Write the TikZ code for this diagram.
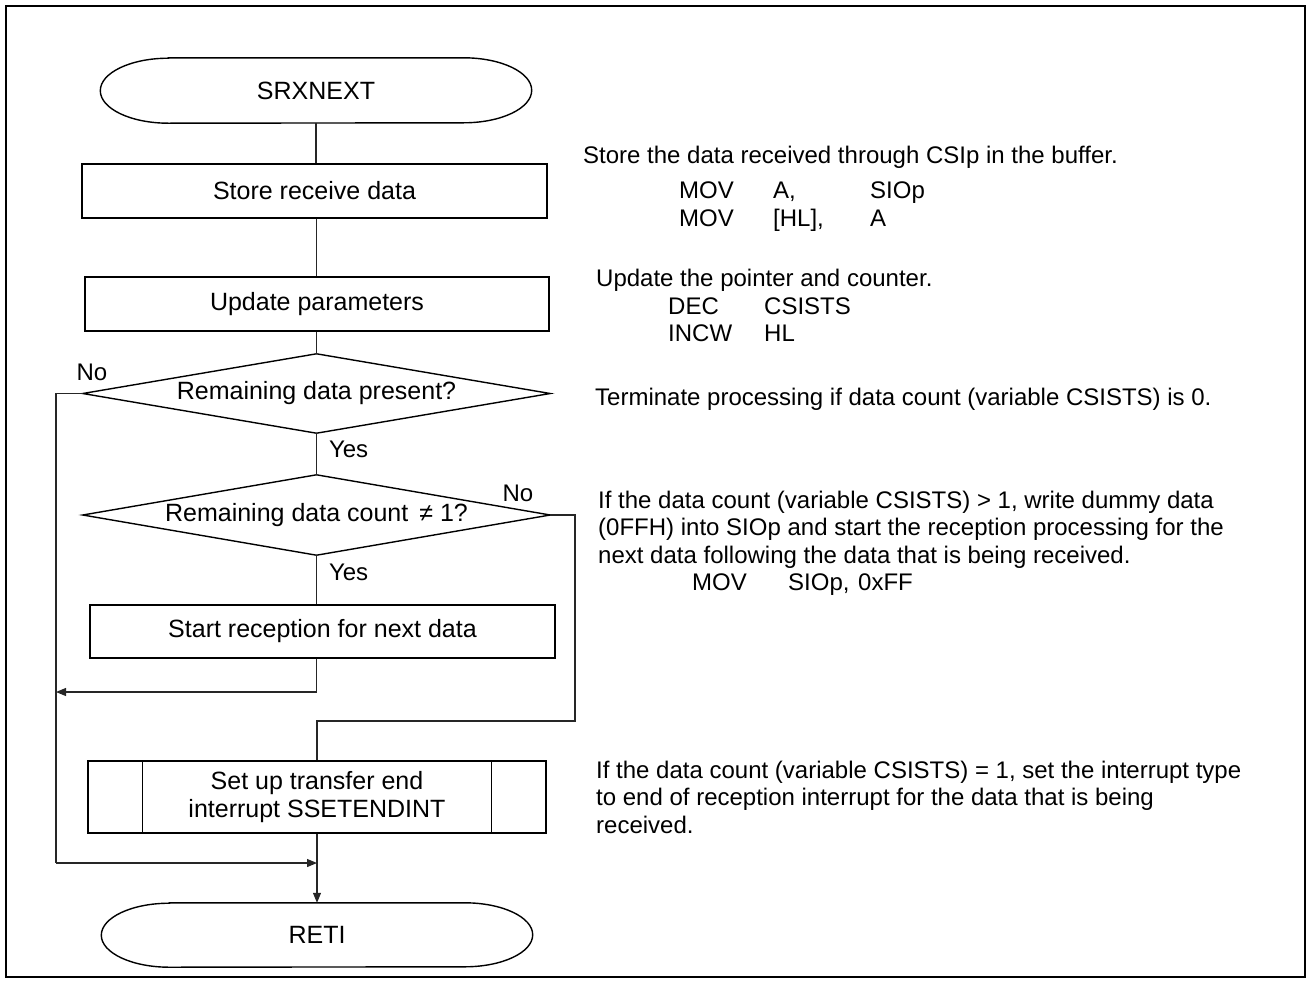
\documentclass[tikz,border=0pt]{standalone}
\usepackage{fontspec}
\setmainfont{Liberation Sans}
\usetikzlibrary{arrows.meta}
\newcommand\flowfont{\fontsize{25}{28}\selectfont}
\newcommand\notefont{\fontsize{24}{27.6}\selectfont}
\begin{document}
\begin{tikzpicture}[x=1pt,y=-1pt,
  conn/.style={line width=1.1pt, draw=black!85},
  arr/.style={-{Triangle[length=10pt,width=8pt]}},
  outl/.style={line width=1.4pt, draw=black},
  box/.style={draw=black, line width=1.4pt, minimum height=54pt, minimum width=465pt, inner sep=0pt, font=\flowfont},
  term/.style={minimum height=65pt, minimum width=431pt, inner sep=0pt, font=\flowfont},
  dec/.style={minimum height=79pt, minimum width=468pt, inner sep=0pt, font=\flowfont},
  lab/.style={inner sep=0pt, font=\notefont},
  note/.style={inner sep=0pt, anchor=base west, font=\notefont}
]
\useasboundingbox (0,0) rectangle (1308,980);
\draw[line width=2.4pt] (6,6) rectangle (1305,977);

% terminals
\node[term] (s) at (316,90.5) {SRXNEXT};
\draw[outl] ([xshift=68pt]s.north west) -- ([xshift=-68pt]s.north east)
  arc[start angle=90,end angle=-90,x radius=68pt,y radius=32.5pt]
  -- ([xshift=68pt]s.south west)
  arc[start angle=270,end angle=90,x radius=68pt,y radius=32.5pt] -- cycle;

\node[term, minimum height=64pt] (r) at (317,935) {RETI};
\draw[outl] ([xshift=68pt]r.north west) -- ([xshift=-68pt]r.north east)
  arc[start angle=90,end angle=-90,x radius=68pt,y radius=32pt]
  -- ([xshift=68pt]r.south west)
  arc[start angle=270,end angle=90,x radius=68pt,y radius=32pt] -- cycle;

% process boxes
\node[box] (b1) at (314.5,191) {Store receive data};
\node[box, minimum width=464pt] (b2) at (317,304) {Update parameters};
\node[box, minimum height=53pt] (b3) at (322.5,631.5) {Start reception for next data};

% decisions
\node[dec, minimum width=467pt] (d1) at (316.5,393.5) {Remaining data present?};
\draw[outl] (d1.north) -- (d1.east) -- (d1.south) -- (d1.west) -- cycle;
\node[dec, minimum height=80pt, minimum width=467pt] (d2) at (316.5,515) {Remaining data count \,≠ 1?};
\draw[outl] (d2.north) -- (d2.east) -- (d2.south) -- (d2.west) -- cycle;

% predefined process
\node[box, minimum width=458pt, minimum height=72pt, align=center] (p) at (317,797) {Set up transfer end\\interrupt SSETENDINT};
\draw[outl] ([xshift=55pt]p.north west) -- ([xshift=55pt]p.south west);
\draw[outl] ([xshift=-55pt]p.north east) -- ([xshift=-55pt]p.south east);

% coordinates
\coordinate (lc1) at (56,393.5);
\coordinate (lc2) at (56,863);
\coordinate (mj) at (317,863);
\coordinate (lj) at (56,692);
\coordinate (rc1) at (575,515);
\coordinate (rc2) at (575,721);
\coordinate (rc3) at (317,721);

% connectors
\draw[conn] (s.south) -- (s.south |- b1.north);
\draw[conn] (d1.north |- b1.south) -- (d1.north |- b2.north);
\draw[conn] (b2.south -| d1.north) -- (d1.north);
\draw[conn] (d1.south) -- node[lab, anchor=west, xshift=12pt, pos=0.4] (y1) {Yes} (d2.north);
\draw[conn] (d2.south) -- node[lab, anchor=west, xshift=12pt, pos=0.34] (y2) {Yes} (d2.south |- b3.north);
\draw[conn] (d1.west) -- (lc1) -- (lc2);
\draw[conn, arr] (lc2) -- (mj);
\draw[conn, arr] (d2.south |- b3.south) |- (lj);
\draw[conn] (d2.east) -- (rc1) -- (rc2) -- (rc3) -- (p.north);
\draw[conn, arr] (p.south) -- (r.north);

\node[lab] (n1) at (92,372) {No};
\node[lab] (n2) at (518,493) {No};

% notes
\node[note] (t1) at (583,163) {Store the data received through CSIp in the buffer.};
\node[note] (t1a) at (679,198) {MOV};
\node[note] (t1b) at (773,198) {A,};
\node[note] (t1c) at (870,198) {SIOp};
\node[note] (t1d) at (679,226) {MOV};
\node[note] (t1e) at (773,226) {[HL],};
\node[note] (t1f) at (870,226) {A};

\node[note] (t2) at (596,286) {Update the pointer and counter.};
\node[note] (t2a) at (668,314) {DEC};
\node[note] (t2b) at (764,314) {CSISTS};
\node[note] (t2c) at (668,341) {INCW};
\node[note] (t2d) at (764,341) {HL};

\node[note] (t3) at (595,405) {Terminate processing if data count (variable CSISTS) is 0.};

\node[note] (t4) at (598,508) {If the data count (variable CSISTS) > 1, write dummy data};
\node[note] (t4b) at (598,535.5) {(0FFH) into SIOp and start the reception processing for the};
\node[note] (t4c) at (598,563) {next data following the data that is being received.};
\node[note] (t4d) at (692,590) {MOV};
\node[note] (t4e) at (788,590) {SIOp,};
\node[note] (t4f) at (858,590) {0xFF};

\node[note] (t5) at (596,778) {If the data count (variable CSISTS) = 1, set the interrupt type};
\node[note] (t5b) at (596,805.5) {to end of reception interrupt for the data that is being};
\node[note] (t5c) at (596,833) {received.};
\end{tikzpicture}
\end{document}
